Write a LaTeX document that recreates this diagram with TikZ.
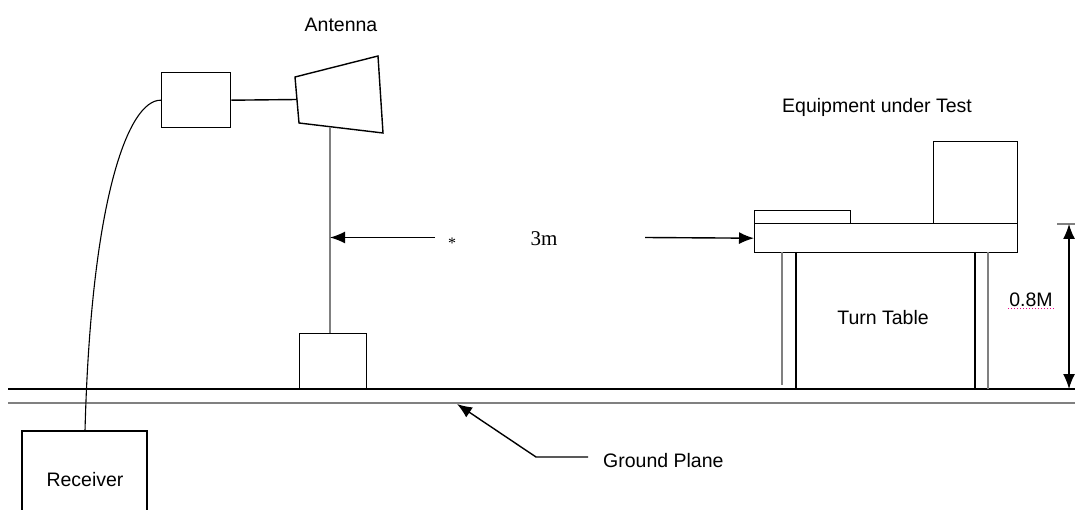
\documentclass[tikz,border=0pt]{standalone}
\usepackage{fontspec}
\setmainfont{Liberation Sans}
\newfontfamily\seriffont{Liberation Serif}
\usetikzlibrary{arrows.meta}
\begin{document}
\begin{tikzpicture}[x=1pt,y=-1pt,
  ln/.style={line width=1.4pt,black},
  gl/.style={line width=1.6pt,black!50},
  boxed/.style={draw,line width=1.4pt,inner sep=0pt,anchor=north west},
  lbl/.style={font=\fontsize{19.5}{22}\selectfont,inner sep=0pt,anchor=base},
  tip/.style={-{Latex[length=15pt,width=12pt]}}]
\useasboundingbox (0,0) rectangle (1075,510);
\fill[white] (0,0) rectangle (1075,510);

% labels
\node[lbl] (antlbl) at (341,32) {Antenna};
\node[lbl] (eutlbl) at (877,113) {Equipment under Test};
\node[lbl,font=\seriffont\fontsize{21}{24}\selectfont] (dist) at (544,246) {3m};
\node[lbl,font=\seriffont\fontsize{16}{18}\selectfont] (star) at (452,249) {*};
\node[lbl] (ttlbl) at (883,324) {Turn Table};
\node[lbl] (hlbl) at (1031,306) {0.8M};
\node[lbl] (recv) at (85,486) {Receiver};
\node[lbl,anchor=base west] (gplbl) at (603,467) {Ground Plane};
\draw[magenta,dotted,line width=1pt] (1008,308) -- (1055,308);

% amplifier box and horn antenna
\node[boxed,minimum width=69pt,minimum height=55pt] (amp) at (161,72) {};
\coordinate (h1) at (295,77);
\coordinate (h2) at (378,56);
\coordinate (h3) at (383,133);
\coordinate (h4) at (299,123);
\draw[ln] (h1) -- (h2) -- (h3) -- (h4) -- cycle;
\coordinate (hl) at (297,99.5);
\draw[ln] (amp.east) -- (hl);

% mast and base
\node[boxed,minimum width=67pt,minimum height=56pt] (base) at (299,333) {};
\coordinate (mtop) at (330,126.7);
\coordinate (mbot) at (330,333);
\draw[gl,line width=1.4pt] (mtop) -- (mbot);

% ground plane
\coordinate (g0) at (8,389);
\coordinate (g1) at (1075,389);
\coordinate (p0) at (8,403);
\coordinate (p1) at (1075,403);
\draw[ln] (g0) -- (g1);
\draw[gl,line width=2pt] (p0) -- (p1);

% receiver and cable
\coordinate (r0) at (22,515);
\coordinate (r1) at (147,515);
\draw[ln] (r0) |- (147,431) -- (r1);
\coordinate (rtop) at (85,431);
\draw[line width=1.1pt] (amp.west) .. controls (128,99.5) and (91,200) .. (rtop);

% table with equipment
\node[boxed,minimum width=263pt,minimum height=29pt] (ttop) at (754,223) {};
\node[boxed,minimum width=96pt,minimum height=13pt] (laptop) at (754,210) {};
\node[boxed,minimum width=84pt,minimum height=82pt] (monitor) at (933,141) {};
\draw[gl] (782,252) -- (782,385);
\draw[ln] (796,252) -- (796,389);
\draw[ln] (975,252) -- (975,389);
\draw[gl] (988,252) -- (988,389);

% 3m distance arrows
\coordinate (a1) at (435,237.5);
\coordinate (a1e) at (330,237.5);
\coordinate (a2) at (645,237.5);
\draw[ln,tip] (a1) -- (a1e);
\draw[ln,tip] (a2) -- (ttop.west);

% 0.8M height dimension
\coordinate (d0) at (1057,224);
\coordinate (d1) at (1075,224);
\coordinate (dt) at (1069,224);
\coordinate (db) at (1069,389);
\draw[gl,line width=1.3pt] (d0) -- (d1);
\draw[ln,{Latex[length=15pt,width=12pt]}-{Latex[length=15pt,width=12pt]}] (dt) -- (db);

% ground plane leader
\coordinate (gp1) at (588,457);
\coordinate (gp2) at (536,457);
\coordinate (gpt) at (457,404);
\draw[ln,tip] (gp1) -- (gp2) -- (gpt);
\end{tikzpicture}
\end{document}
